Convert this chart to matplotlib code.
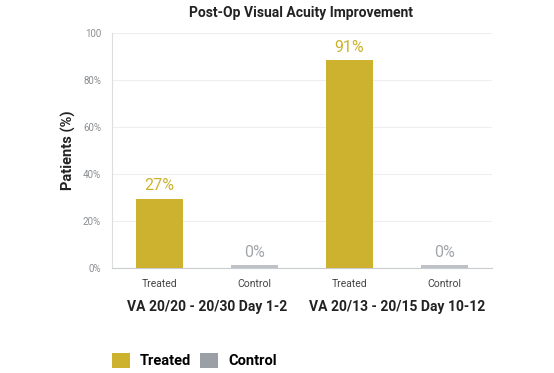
import matplotlib.pyplot as plt
from matplotlib.patches import Patch

plt.rcParams['font.family'] = ['Roboto', 'DejaVu Sans']

bar_labels = ["Treated", "Control", "Treated", "Control"]
bar_heights = [29.5, 1.2, 88.5, 1.2]
value_labels = ["27%", "0%", "91%", "0%"]
group_labels = ["VA 20/20 - 20/30 Day 1-2", "VA 20/13 - 20/15 Day 10-12"]
y_ticks = [0, 20, 40, 60, 80, 100]
y_tick_labels = ["0%", "20%", "40%", "60%", "80%", "100"]

gold = "#CCB22E"
grey_bar = "#BEC2C6"
grey_legend = "#9AA0A5"
grey_text = "#A3A7AB"
bar_colors = [gold, grey_bar, gold, grey_bar]
text_colors = [gold, grey_text, gold, grey_text]

fig = plt.figure(figsize=(5.54, 3.73), dpi=100)
ax = fig.add_axes([0.2022, 0.2815, 0.686, 0.630])

x = list(range(len(bar_heights)))
ax.bar(x, bar_heights, width=0.5, color=bar_colors, zorder=3)
for xi, h, lab, c in zip(x, bar_heights, value_labels, text_colors):
    ax.text(xi, h + 2.3, lab, ha='center', va='bottom', color=c, fontsize=11.5)

ax.set_xlim(-0.5, 3.5)
ax.set_ylim(0, 100)
ax.set_yticks(y_ticks)
ax.set_yticklabels(y_tick_labels)
ax.set_xticks(x)
ax.set_xticklabels(bar_labels)
ax.tick_params(axis='y', length=0, labelsize=7, labelcolor='#8A8E92', pad=8)
ax.tick_params(axis='x', length=0, labelsize=7.5, labelcolor='#444444', pad=8)
ax.grid(axis='y', color='#EEEEEE', linewidth=0.8, zorder=0)

for s in ['top', 'right']:
    ax.spines[s].set_visible(False)
ax.spines['left'].set_color('#DDDDDD')
ax.spines['bottom'].set_color('#C8CCCF')

for i, g in enumerate(group_labels):
    ax.text(0.5 + 2 * i, -16.5, g, ha='center', va='center', fontsize=10,
            fontweight='semibold', color='#222222', transform=ax.transData, clip_on=False)

ax.set_ylabel("Patients (%)", fontsize=10.5, fontweight='bold', color='#222222', labelpad=5)
fig.suptitle("Post-Op Visual Acuity Improvement", x=0.543, y=0.985, fontsize=10,
             fontweight='semibold', color='#222222')

handles = [Patch(facecolor=gold, label="Treated"), Patch(facecolor=grey_legend, label="Control")]
fig.legend(handles=handles, loc='center left', bbox_to_anchor=(0.178, 0.034), ncol=2,
           frameon=False, prop={'size': 10.5, 'weight': 'semibold'}, handlelength=1.25,
           handleheight=1.25, columnspacing=0.6, handletextpad=0.7)

fig.savefig("out.png", dpi=100)
